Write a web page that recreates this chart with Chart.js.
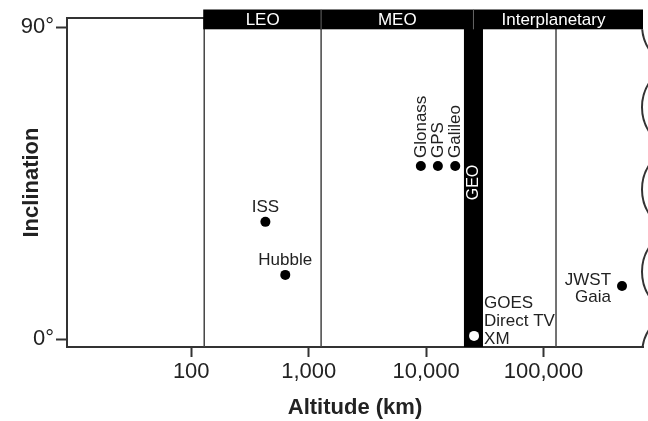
<!DOCTYPE html>
<html>
<head>
<meta charset="utf-8">
<script src="https://cdn.jsdelivr.net/npm/chart.js@4.4.1/dist/chart.umd.min.js"></script>
<style>
  html, body { margin: 0; padding: 0; background: #fff; }
  #wrap { width: 648px; height: 421px; position: relative; }
</style>
</head>
<body>
<div id="wrap"><canvas id="orbitChart"></canvas></div>
<script>
// satellites and where they sit
const satellites = ['ISS', 'Hubble', 'Glonass', 'GPS', 'Galileo', 'GOES / Direct TV / XM', 'JWST / Gaia'];
const pointLabels = [['ISS'], ['Hubble'], ['Glonass'], ['GPS'], ['Galileo'], ['GOES', 'Direct TV', 'XM'], ['JWST', 'Gaia']];
const altitudeKm = [428, 632, 9020, 12600, 17700, 25600, 466000];
const inclinationDeg = [33.8, 18.5, 49.9, 49.9, 49.9, 0.9, 15.3];

// orbit regions
const regionNames = ['LEO', 'MEO', 'Interplanetary'];
const boundaryKm = [129, 1276, 127700];
const geoBandKm = [21000, 30500];

// axes
const xTicks = [100, 1000, 10000, 100000];
const yTicks = [0, 90];
const xRange = [8.75, 703000];
const yRange = [-2.3, 92.6];

const FONT = '"Liberation Sans", Arial, Helvetica, sans-serif';
const INK = '#222';
const LINE = '#333';

Chart.defaults.font.family = FONT;
Chart.defaults.color = INK;

const orbitDecor = {
    id: 'orbitDecor',
    beforeDatasetsDraw(chart) {
        const { ctx, chartArea: a, scales: { x } } = chart;
        const x0 = x.getPixelForValue(geoBandKm[0]);
        const x1 = x.getPixelForValue(geoBandKm[1]);
        ctx.save();
        ctx.fillStyle = '#000';
        ctx.fillRect(x0, a.top, x1 - x0, a.bottom - a.top);
        ctx.translate((x0 + x1) / 2, (a.top + a.bottom) / 2);
        ctx.rotate(-Math.PI / 2);
        ctx.fillStyle = '#fff';
        ctx.font = '16px ' + FONT;
        ctx.textAlign = 'center';
        ctx.textBaseline = 'middle';
        ctx.fillText('GEO', 0, 0);
        ctx.restore();
    },
    afterDatasetsDraw(chart) {
        const { ctx, chartArea: a, scales: { x } } = chart;
        ctx.save();

        // top border of the box
        ctx.strokeStyle = LINE;
        ctx.lineWidth = 2;
        ctx.beginPath();
        ctx.moveTo(a.left, a.top);
        ctx.lineTo(a.right, a.top);
        ctx.stroke();

        // header bar with region names
        const barTop = a.top - 8.5;
        const barBottom = a.top + 11.3;
        const leoPx = x.getPixelForValue(boundaryKm[0]);
        const meoPx = x.getPixelForValue(boundaryKm[1]);
        const geoMid = Math.sqrt(geoBandKm[0] * geoBandKm[1]);
        const geoPx = x.getPixelForValue(geoMid);
        const geoLeft = x.getPixelForValue(geoBandKm[0]);
        ctx.fillStyle = '#000';
        ctx.fillRect(leoPx - 1, barTop, a.right - leoPx + 1, barBottom - barTop);
        ctx.strokeStyle = '#666';
        ctx.lineWidth = 1;
        [meoPx, geoPx].forEach(px => {
            ctx.beginPath();
            ctx.moveTo(px, barTop);
            ctx.lineTo(px, barBottom);
            ctx.stroke();
        });
        const centers = [(leoPx + meoPx) / 2, (meoPx + geoPx) / 2, (geoLeft + a.right) / 2];
        ctx.fillStyle = '#fff';
        ctx.font = '17px ' + FONT;
        ctx.textAlign = 'center';
        ctx.textBaseline = 'middle';
        regionNames.forEach((n, i) => ctx.fillText(n, centers[i], (barTop + barBottom) / 2 + 0.5));

        // wavy right edge (axis continues)
        ctx.save();
        ctx.beginPath();
        ctx.rect(a.left, barBottom, chart.width - a.left, a.bottom - barBottom);
        ctx.clip();
        ctx.strokeStyle = LINE;
        ctx.lineWidth = 2;
        for (let k = 0; k <= 4; k++) {
            const cy = a.top + 7 + k * (a.bottom - a.top) / 4;
            ctx.beginPath();
            ctx.arc(a.right + 44, cy, 45, 0, Math.PI * 2);
            ctx.stroke();
        }
        ctx.restore();

        // satellite labels
        const meta = chart.getDatasetMeta(0);
        ctx.fillStyle = INK;
        ctx.font = '17px ' + FONT;
        ctx.textBaseline = 'middle';
        meta.data.forEach((pt, i) => {
            const lines = pointLabels[i];
            const name = lines[0];
            if (name === 'ISS' || name === 'Hubble') {
                ctx.textAlign = 'center';
                ctx.fillText(name, pt.x, pt.y - 14.5);
            } else if (name === 'Glonass' || name === 'GPS' || name === 'Galileo') {
                ctx.save();
                ctx.translate(pt.x, pt.y - 8);
                ctx.rotate(-Math.PI / 2);
                ctx.textAlign = 'left';
                ctx.fillText(name, 0, 0);
                ctx.restore();
            } else if (name === 'GOES') {
                ctx.textAlign = 'left';
                lines.forEach((l, j) => ctx.fillText(l, pt.x + 10, pt.y + 3 - (lines.length - 1 - j) * 18));
            } else {
                ctx.textAlign = 'right';
                lines.forEach((l, j) => ctx.fillText(l, pt.x - 11, pt.y - 6 + j * 17));
            }
        });
        ctx.restore();
    }
};

const ctx = document.getElementById('orbitChart').getContext('2d');

const boundarySets = boundaryKm.map(b => ({
    type: 'line',
    data: [{ x: b, y: yRange[0] }, { x: b, y: yRange[1] }],
    borderColor: '#444',
    borderWidth: 1.5,
    pointRadius: 0,
    showLine: true,
    fill: false
}));

new Chart(ctx, {
    type: 'scatter',
    data: {
        datasets: [{
            label: 'Satellites',
            data: altitudeKm.map((v, i) => ({ x: v, y: inclinationDeg[i] })),
            pointRadius: 5,
            pointBorderWidth: 0,
            pointBackgroundColor: c => {
                const v = altitudeKm[c.dataIndex];
                return (v > geoBandKm[0] && v < geoBandKm[1]) ? '#fff' : '#000';
            }
        }, ...boundarySets]
    },
    options: {
        responsive: true,
        maintainAspectRatio: false,
        animation: false,
        events: [],
        layout: { padding: { left: 0, right: 5, top: 18, bottom: 0 } },
        plugins: { legend: { display: false }, tooltip: { enabled: false } },
        scales: {
            x: {
                type: 'logarithmic',
                min: xRange[0],
                max: xRange[1],
                afterBuildTicks: s => { s.ticks = xTicks.map(v => ({ value: v })); },
                afterFit: s => { s.height = 74; },
                ticks: {
                    callback: v => Number(v).toLocaleString('en-US'),
                    font: { size: 22 },
                    color: INK,
                    padding: 2,
                    maxRotation: 0,
                    autoSkip: false
                },
                grid: { drawOnChartArea: false, drawTicks: true, tickLength: 10, tickWidth: 2, tickColor: LINE },
                border: { display: true, color: LINE, width: 2 },
                title: { display: true, text: 'Altitude (km)', font: { size: 22, weight: 'bold' }, color: INK, padding: { top: 0, bottom: 0 } }
            },
            y: {
                type: 'linear',
                min: yRange[0],
                max: yRange[1],
                afterBuildTicks: s => { s.ticks = yTicks.map(v => ({ value: v })); },
                afterFit: s => { s.width = 67; },
                ticks: {
                    callback: v => v + '°',
                    font: { size: 22 },
                    color: INK,
                    padding: 2
                },
                grid: { drawOnChartArea: false, drawTicks: true, tickLength: 11, tickWidth: 2, tickColor: LINE },
                border: { display: true, color: LINE, width: 2 },
                title: { display: true, text: 'Inclination', font: { size: 22, weight: 'bold' }, color: INK, padding: { top: 19, bottom: 0 } }
            }
        }
    },
    plugins: [orbitDecor]
});
</script>
</body>
</html>
